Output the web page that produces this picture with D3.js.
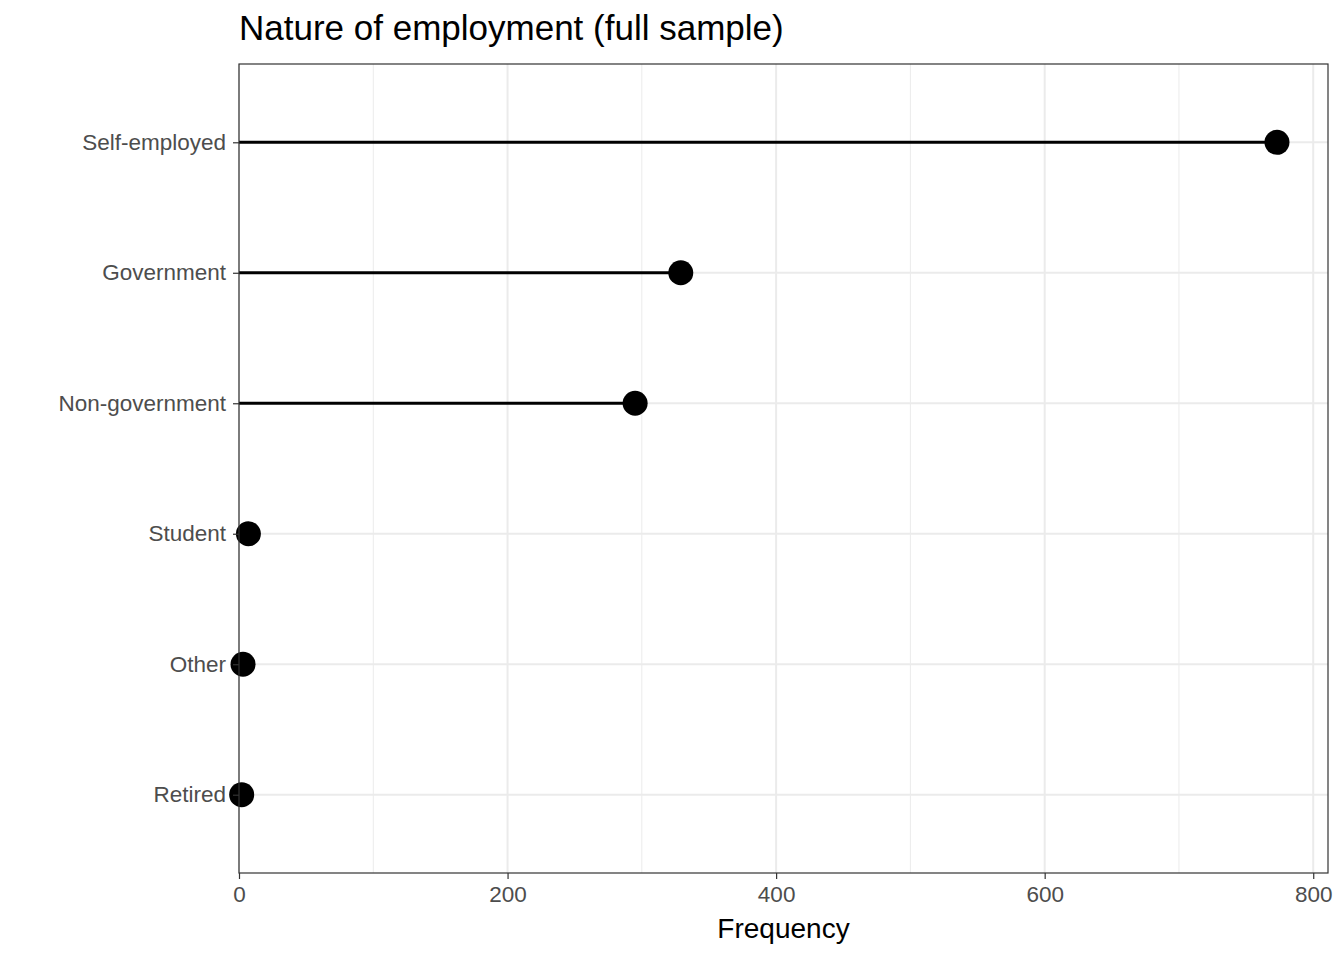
<!DOCTYPE html>
<html><head><meta charset="utf-8">
<script src="https://cdn.jsdelivr.net/npm/d3@7"></script>
<style>body{margin:0;background:#fff}text{font-family:"Liberation Sans",Arial,sans-serif}</style>
</head><body>
<script>
const categories = ["Self-employed", "Government", "Non-government", "Student", "Other", "Retired"];
const frequency = [773, 329, 295, 7, 3, 2];
const xTicks = [0, 200, 400, 600, 800];

const W = 1344, H = 960;
const m = {left: 239, right: 16, top: 64, bottom: 87};
const svg = d3.select("body").append("svg").attr("width", W).attr("height", H);

const x = d3.scaleLinear().domain([0, 811]).range([m.left, W - m.right]);
const y = d3.scalePoint().domain(categories).range([m.top, H - m.bottom]).padding(0.6);

// minor grid
const minor = [100, 300, 500, 700];
svg.selectAll(".minor").data(minor).enter().append("line")
  .attr("x1", d => x(d)).attr("x2", d => x(d))
  .attr("y1", m.top).attr("y2", H - m.bottom)
  .attr("stroke", "#ebebeb").attr("stroke-width", 1);
svg.selectAll(".majx").data(xTicks).enter().append("line")
  .attr("x1", d => x(d)).attr("x2", d => x(d))
  .attr("y1", m.top).attr("y2", H - m.bottom)
  .attr("stroke", "#ebebeb").attr("stroke-width", 2);
svg.selectAll(".majy").data(categories).enter().append("line")
  .attr("x1", m.left).attr("x2", W - m.right)
  .attr("y1", d => y(d)).attr("y2", d => y(d))
  .attr("stroke", "#ebebeb").attr("stroke-width", 2);

// lollipops
svg.selectAll(".stick").data(categories).enter().append("line")
  .attr("x1", x(0)).attr("x2", (d, i) => x(frequency[i]))
  .attr("y1", d => y(d)).attr("y2", d => y(d))
  .attr("stroke", "#000").attr("stroke-width", 3);
svg.selectAll(".dot").data(categories).enter().append("circle")
  .attr("cx", (d, i) => x(frequency[i])).attr("cy", d => y(d))
  .attr("r", 12.5).attr("fill", "#000");

// panel border
svg.append("rect").attr("x", m.left).attr("y", m.top)
  .attr("width", W - m.right - m.left).attr("height", H - m.bottom - m.top)
  .attr("fill", "none").attr("stroke", "#333").attr("stroke-width", 1.2);

// axes
const xa = svg.append("g").attr("transform", `translate(0,${H - m.bottom})`)
  .call(d3.axisBottom(x).tickValues(xTicks).tickSize(6).tickPadding(7));
const ya = svg.append("g").attr("transform", `translate(${m.left},0)`)
  .call(d3.axisLeft(y).tickSize(6).tickPadding(7));
[xa, ya].forEach(a => {
  a.select(".domain").remove();
  a.selectAll(".tick line").attr("stroke", "#333").attr("stroke-width", 1.2);
  a.selectAll("text").attr("fill", "#4d4d4d").style("font-size", "22.5px");
});

svg.append("text").attr("x", (m.left + W - m.right) / 2).attr("y", 938)
  .attr("text-anchor", "middle").style("font-size", "28px").text("Frequency");
svg.append("text").attr("x", m.left).attr("y", 40)
  .style("font-size", "35px").text("Nature of employment (full sample)");
</script>
</body></html>
